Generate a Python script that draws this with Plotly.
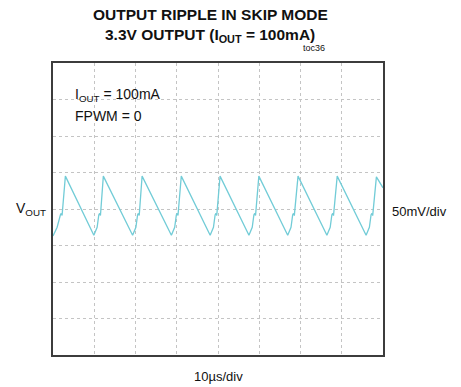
import plotly.graph_objects as go

# Waveform samples (time in µs, voltage in mV, AC coupled)
time_us = [0.0, 1.0, 1.8, 2.0, 2.2, 3.0,
           9.9, 10.7, 11.1, 11.3, 11.5, 12.2,
           19.3, 20.1, 20.5, 20.7, 20.9, 21.6,
           28.7, 29.5, 29.9, 30.1, 30.3, 31.1,
           38.1, 38.9, 39.3, 39.5, 39.7, 40.5,
           47.5, 48.3, 48.7, 48.9, 49.1, 49.9,
           56.9, 57.7, 58.1, 58.3, 58.5, 59.4,
           66.4, 67.2, 67.6, 67.8, 68.0, 68.9,
           75.9, 76.7, 77.1, 77.3, 77.5, 78.4,
           80.0]
vout_mv = [-37, -25, -8, -6, -9, 45,
           -36, -25, -8, -6, -9, 45,
           -36, -25, -8, -6, -9, 45,
           -36, -25, -8, -6, -9, 45,
           -36, -25, -8, -6, -9, 45,
           -36, -25, -8, -6, -9, 45,
           -36, -25, -8, -6, -9, 45,
           -36, -25, -8, -6, -9, 45,
           -36, -25, -8, -6, -9, 44,
           29]

x_range = [0, 80]
y_range = [-200, 200]

fig = go.Figure()
fig.add_trace(go.Scatter(x=time_us, y=vout_mv, mode="lines",
                         line=dict(color="#72ccd7", width=1.3),
                         showlegend=False, hoverinfo="skip"))

font = "Liberation Sans, Arial, sans-serif"
axis_common = dict(showticklabels=False, ticks="", zeroline=False,
                   showgrid=True, gridcolor="#c4c4c4", griddash="dot", gridwidth=1,
                   showline=True, mirror=True, linecolor="#3c3c3c", linewidth=2)

fig.update_layout(
    width=461, height=387,
    margin=dict(l=53, r=78, t=63, b=32),
    paper_bgcolor="white", plot_bgcolor="white",
    xaxis=dict(range=x_range, dtick=10, **axis_common),
    yaxis=dict(range=y_range, dtick=50, **axis_common),
    font=dict(family=font, color="#111111"),
)

def ann(text, x, y, size, xanchor="center", yanchor="middle", bold=False):
    if bold:
        text = "<b>" + text + "</b>"
    fig.add_annotation(text=text, x=x, y=y, xref="paper", yref="paper",
                       xanchor=xanchor, yanchor=yanchor, showarrow=False,
                       font=dict(size=size, family=font, color="#111111"))

ann("OUTPUT RIPPLE IN SKIP MODE", 0.476, 1.165, 15.5, bold=True)
ann("3.3V OUTPUT (I<sub>OUT</sub> = 100mA)", 0.476, 1.095, 15.5, bold=True)
ann("toc36", 0.79, 1.052, 9)
ann("I<sub>OUT</sub> = 100mA", 0.06, 0.889, 14, xanchor="left")
ann("FPWM = 0", 0.06, 0.8185, 14, xanchor="left")
ann("V<sub>OUT</sub>", -0.117, 0.50, 14, xanchor="left")
ann("50mV/div", 1.022, 0.493, 13, xanchor="left")
ann("10µs/div", 0.5, -0.072, 13)

fig.write_html("out.html")
